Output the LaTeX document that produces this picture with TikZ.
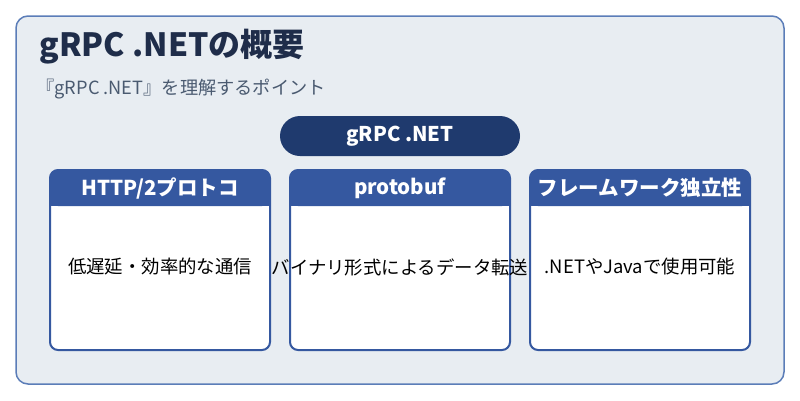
\documentclass[tikz,border=0pt]{standalone}
\usepackage{fontspec}
\setmainfont{Noto Sans CJK JP}
\begin{document}
\begin{tikzpicture}[x=1pt,y=-1pt,
  hdr/.style={text=white,font=\fontsize{20.5}{23}\selectfont\bfseries},
  body/.style={font=\fontsize{18.4}{21}\selectfont,text=black}]
\definecolor{bg}{HTML}{E8EDF2}
\definecolor{bd}{HTML}{5B7DB8}
\definecolor{navy}{HTML}{1F3A6E}
\definecolor{hb}{HTML}{3558A0}
\definecolor{ttl}{HTML}{1F2D4A}
\definecolor{sub}{HTML}{4A5A70}
\useasboundingbox (0,0) rectangle (800,400);
\draw[bd,fill=bg,line width=1.5,rounded corners=12] (16,16) rectangle (784,384);
\node[anchor=west,text=ttl,font=\fontsize{32}{36}\selectfont\bfseries] (title) at (36,47) {gRPC .NETの概要};
\node[anchor=west,text=sub,font=\fontsize{18.2}{21}\selectfont] (subt) at (33,89) {『gRPC .NET』を理解するポイント};
\fill[navy,rounded corners=20] (280,116) rectangle (520,156);
\node[text=white,font=\fontsize{20.3}{23}\selectfont\bfseries] (pill) at (400,136) {gRPC .NET};
\foreach \x/\h/\b/\n in {50/{HTTP/2プロトコ}/低遅延・効率的な通信/a,290/protobuf/バイナリ形式によるデータ転送/b,530/フレームワーク独立性/.NETやJavaで使用可能/c}{
  \begin{scope}[shift={(\x,0)}]
  \fill[white,rounded corners=8] (0,170) rectangle (220,350);
  \fill[hb,rounded corners=8] (0,170) rectangle (220,206);
  \fill[hb] (0,195) rectangle (220,206);
  \draw[hb,line width=2,rounded corners=8] (0,170) rectangle (220,350);
  \node[hdr] (h\n) at (110,188) {\h};
  \node[body] (t\n) at (110,267) {\b};
  \end{scope}}
\end{tikzpicture}
\end{document}
